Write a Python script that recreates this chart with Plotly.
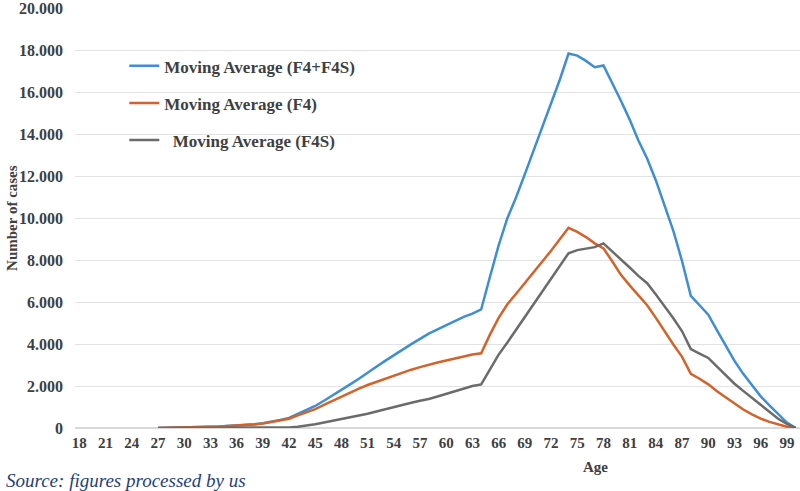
import plotly.graph_objects as go

ages = list(range(27, 101))

ma_total = [0, 5, 10, 20, 30, 40, 55, 70, 90, 110, 140, 180, 230, 300, 380, 480,
            680, 850, 1050, 1300, 1550, 1800, 2080, 2350, 2650, 2920, 3200, 3480,
            3750, 4000, 4250, 4500, 4700, 4900, 5100, 5300, 5450, 5650,
            7200, 8700, 10000, 11000, 12100, 13200, 14300, 15400, 16600, 17850,
            17750, 17500, 17200, 17280, 16450, 15600, 14700, 13700, 12850, 11800,
            10600, 9400, 7950, 6300, 5850, 5400, 4650, 3930, 3200, 2580, 2030,
            1510, 1080, 690, 260, 0]

ma_f4 = [0, 5, 10, 20, 30, 40, 55, 70, 90, 110, 135, 170, 215, 280, 350, 440,
         600, 750, 900, 1100, 1300, 1500, 1700, 1880, 2050, 2200, 2350, 2500,
         2650, 2780, 2900, 3020, 3120, 3220, 3320, 3420, 3500, 3560,
         4450, 5250, 5900, 6400, 6900, 7400, 7900, 8450, 9000, 9540,
         9350, 9100, 8800, 8560, 7950, 7300, 6800, 6300, 5850, 5250, 4600,
         3980, 3390, 2580, 2350, 2080, 1750, 1450, 1150, 880, 650, 450, 290,
         160, 60, 0]

ma_f4s = [0, 0, 0, 0, 0, 0, 0, 0, 0, 0, 0, 0, 0, 10, 15, 25,
          60, 110, 180, 260, 340, 420, 500, 580, 680, 790, 900, 1000, 1100,
          1200, 1300, 1380, 1500, 1620, 1750, 1880, 2000, 2080,
          2800, 3500, 4080, 4680, 5290, 5900, 6500, 7110, 7720, 8330,
          8480, 8560, 8620, 8800, 8430, 8040, 7650, 7250, 6900, 6360, 5810,
          5230, 4610, 3760, 3550, 3340, 2930, 2520, 2110, 1770, 1445, 1115,
          790, 440, 190, 0]

series_names = ["Moving Average (F4+F4S)", "Moving Average (F4)", "\u00a0\u00a0Moving Average (F4S)"]
series_colors = ["#3F8ED4", "#D4622A", "#6B6B6B"]
series_values = [ma_total, ma_f4, ma_f4s]

x_ticks = list(range(18, 100, 3))
y_ticks = list(range(0, 20001, 2000))

fig = go.Figure()
for i, (name, color, vals) in enumerate(zip(series_names, series_colors, series_values)):
    fig.add_trace(go.Scatter(
        x=ages, y=vals, mode="lines", name=name,
        line=dict(color=color, width=2.5),
        legendgroup=f"g{i}",
    ))

fig.update_layout(
    width=800, height=491,
    margin=dict(l=75, r=0, t=8, b=63, autoexpand=False),
    paper_bgcolor="white", plot_bgcolor="white",
    separators=",.",
    font=dict(family="Liberation Serif", color="#595959"),
    showlegend=True,
    legend=dict(
        x=0.068, y=0.904, xanchor="left", yanchor="top",
        bgcolor="rgba(0,0,0,0)",
        font=dict(family="Liberation Serif", size=17, color="#404040", weight="bold"),
        traceorder="grouped", tracegroupgap=12,
        itemwidth=30,
    ),
    xaxis=dict(
        range=[17.5, 100.5], tickmode="array", tickvals=x_ticks,
        ticktext=[str(v) for v in x_ticks],
        showgrid=False, zeroline=False, showline=False,
        tickfont=dict(family="Liberation Serif", size=15, color="#404040", weight="bold"),
        ticks="", ticklabelstandoff=4, automargin=False,
    ),
    yaxis=dict(
        range=[0, 20020], tickmode="array", tickvals=y_ticks,
        tickformat=",d",
        showgrid=True, gridcolor="#E3E3E3", gridwidth=1.2,
        zeroline=True, zerolinecolor="#D9D9D9", zerolinewidth=1.5,
        showline=False, ticks="",
        tickfont=dict(family="Liberation Serif", size=16, color="#404040", weight="bold"),
        ticklabelstandoff=11, automargin=False, ticklabeloverflow="allow",
    ),
    annotations=[
        dict(text="<b>Number of cases</b>", xref="paper", yref="paper",
             x=-0.087, y=0.5, textangle=-90, showarrow=False,
             font=dict(family="Liberation Serif", size=15, color="#404040"),
             xanchor="center", yanchor="middle"),
        dict(text="<b>Age</b>", xref="paper", yref="paper",
             x=(595 - 75) / 725, y=-0.07, showarrow=False,
             font=dict(family="Liberation Serif", size=15, color="#404040"),
             xanchor="center", yanchor="top"),
        dict(text="<i>Source: figures processed by us</i>", xref="paper", yref="paper",
             x=(4 - 75) / 725, y=-0.125, showarrow=False,
             font=dict(family="Liberation Serif", size=19, color="#1F3F7A"),
             xanchor="left", yanchor="middle"),
    ],
)

fig.write_html(
    "out.html",
    config={"displayModeBar": False},
    post_script="document.body.style.margin='0';document.body.style.padding='0';",
)
